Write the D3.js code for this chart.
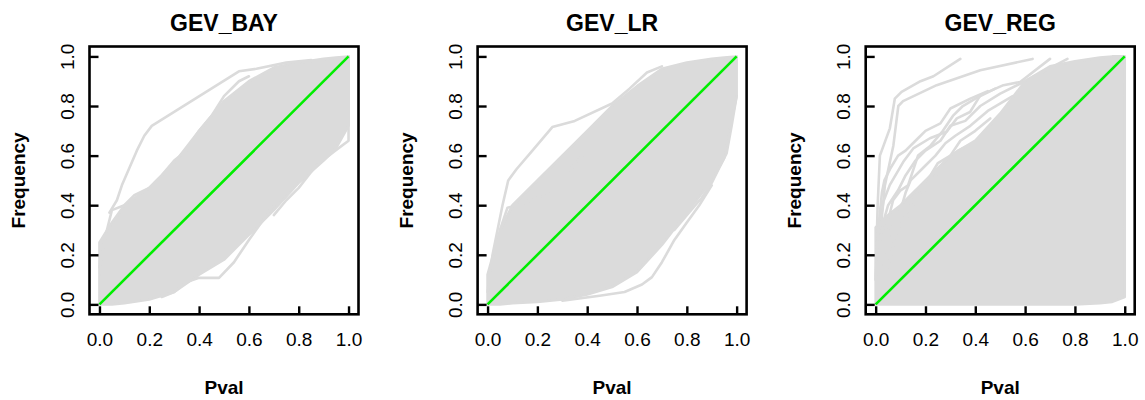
<!DOCTYPE html>
<html>
<head>
<meta charset="utf-8">
<script src="https://cdn.jsdelivr.net/npm/d3@7"></script>
<style>
  body { margin: 0; background: #fff; }
  text { font-family: "Liberation Sans", Arial, Helvetica, sans-serif; }
</style>
</head>
<body>
<div id="chart"></div>
<script>
// panel titles
const titles = ["GEV_BAY", "GEV_LR", "GEV_REG"];
const ticks = [0, 0.2, 0.4, 0.6, 0.8, 1.0];

// p-value grid for the dense band of curves
const pvalGrid = [0, 0.05, 0.1, 0.2, 0.3, 0.4, 0.5, 0.6, 0.7, 0.8, 0.9, 0.95, 1];

// envelope of the dense gray bundle
const bayUpper = [0.25, 0.33, 0.40, 0.47, 0.57, 0.70, 0.82, 0.90, 0.955, 0.975, 0.99, 0.995, 1];
const bayLower = [0, 0, 0.005, 0.02, 0.05, 0.12, 0.18, 0.28, 0.38, 0.49, 0.58, 0.63, 0.72];
const lrUpper  = [0.12, 0.30, 0.40, 0.50, 0.60, 0.70, 0.80, 0.88, 0.95, 0.975, 0.99, 0.995, 1];
const lrLower  = [0, 0, 0.005, 0.01, 0.02, 0.04, 0.07, 0.13, 0.24, 0.37, 0.50, 0.59, 0.84];
const regUpper = [0.31, 0.36, 0.40, 0.50, 0.60, 0.66, 0.77, 0.90, 0.96, 0.98, 0.995, 1, 1];
const regLower = [0, 0, 0, 0, 0, 0, 0, 0, 0, 0, 0.005, 0.01, 0.03];

// stray curves outside the bundle  [pval, frequency]
const bayLines = [
  [[0.04,0.37],[0.07,0.42],[0.09,0.48],[0.12,0.55],[0.15,0.62],[0.18,0.68],[0.21,0.72],[0.56,0.94],[0.63,0.95],[0.75,0.975],[0.85,0.985]],
  [[0,0.15],[0.03,0.30],[0.05,0.38],[0.1,0.40],[0.14,0.44],[0.2,0.47],[0.25,0.52],[0.3,0.58],[0.35,0.62],[0.4,0.70],[0.45,0.76],[0.5,0.84],[0.56,0.9],[0.6,0.92]],
  [[0.25,0.03],[0.3,0.05],[0.35,0.09],[0.40,0.107],[0.48,0.107],[0.54,0.17],[0.6,0.26],[0.65,0.33],[0.7,0.40]],
  [[0.7,0.36],[0.75,0.42],[0.8,0.47],[0.87,0.56],[0.94,0.615],[1,0.66],[1,1]]
];
const lrLines = [
  [[0,0.05],[0.02,0.2],[0.04,0.3],[0.06,0.40],[0.083,0.50],[0.116,0.545],[0.18,0.62],[0.26,0.715],[0.35,0.74],[0.5,0.81],[0.57,0.87],[0.64,0.935],[0.7,0.96]],
  [[0.05,0.3],[0.08,0.39],[0.12,0.40],[0.2,0.43],[0.27,0.45],[0.32,0.53],[0.38,0.6]],
  [[0.3,0.015],[0.45,0.035],[0.55,0.05],[0.62,0.08],[0.66,0.11],[0.70,0.17],[0.75,0.26],[0.8,0.33],[0.85,0.40],[0.9,0.48]],
  [[0.75,0.3],[0.8,0.36],[0.86,0.43],[0.9,0.49],[0.93,0.55],[0.96,0.61],[0.98,0.72],[1,0.84]]
];
const regLines = [
  [[0,0.1],[0.008,0.4],[0.017,0.6],[0.057,0.71],[0.077,0.83],[0.104,0.857],[0.18,0.9],[0.232,0.92],[0.34,0.99]],
  [[0.02,0.3],[0.037,0.48],[0.071,0.64],[0.091,0.8],[0.11,0.82],[0.245,0.884],[0.42,0.944],[0.63,0.99]],
  [[0.004,0.24],[0.031,0.415],[0.057,0.482],[0.111,0.575],[0.151,0.629],[0.218,0.67],[0.285,0.696],[0.326,0.75],[0.379,0.776],[0.42,0.843],[0.513,0.884],[0.58,0.897],[0.7,0.99]],
  [[0.01,0.2],[0.03,0.33],[0.05,0.40],[0.09,0.46],[0.12,0.52],[0.16,0.58],[0.2,0.62],[0.26,0.66],[0.3,0.72],[0.36,0.74],[0.42,0.80],[0.5,0.85],[0.6,0.9],[0.77,0.99]],
  [[0.02,0.15],[0.06,0.3],[0.1,0.38],[0.12,0.45],[0.14,0.5],[0.19,0.55],[0.24,0.6],[0.28,0.65],[0.32,0.68],[0.38,0.72],[0.45,0.78],[0.55,0.84]],
  [[0.04,0.3],[0.07,0.42],[0.1,0.46],[0.13,0.48],[0.17,0.6],[0.22,0.64],[0.27,0.7],[0.31,0.76],[0.35,0.8],[0.4,0.83],[0.48,0.87]],
  [[0.06,0.2],[0.1,0.3],[0.15,0.4],[0.18,0.47],[0.22,0.52],[0.25,0.57],[0.3,0.6],[0.34,0.66],[0.4,0.7],[0.46,0.75]],
  [[0,0.1],[0.01,0.3],[0.025,0.45],[0.035,0.5],[0.06,0.55],[0.09,0.6],[0.12,0.62],[0.16,0.66],[0.2,0.7],[0.26,0.73],[0.3,0.79],[0.38,0.83],[0.45,0.86]],
  [[0.05,0.15],[0.08,0.28],[0.12,0.36],[0.16,0.44],[0.2,0.46],[0.24,0.52],[0.28,0.56],[0.33,0.62],[0.37,0.64]]
];

const panels = [
  { title: titles[0], upper: bayUpper, lower: bayLower, lines: bayLines },
  { title: titles[1], upper: lrUpper,  lower: lrLower,  lines: lrLines },
  { title: titles[2], upper: regUpper, lower: regLower, lines: regLines }
];

const grey = "#dbdbdb";
const W = 1145, H = 400;
const boxW = 269, plotTop = 46.5, plotBottom = 314.3;

const svg = d3.select("#chart").append("svg")
    .attr("width", W)
    .attr("height", H);

panels.forEach((p, i) => {
  const left = 89.5 + i * 388.1;
  const x = d3.scaleLinear().domain([-0.04, 1.04]).range([left, left + boxW]);
  const y = d3.scaleLinear().domain([-0.04, 1.04]).range([plotBottom, plotTop]);
  const g = svg.append("g");

  // dense bundle
  const band = pvalGrid.map((v, k) => ({ p: v, lo: p.lower[k], hi: p.upper[k] }));
  const area = d3.area()
      .x(d => x(d.p))
      .y0(d => y(d.lo))
      .y1(d => y(d.hi));
  g.append("path")
      .datum(band)
      .attr("d", area)
      .attr("fill", grey)
      .attr("stroke", grey)
      .attr("stroke-width", 2.6)
      .attr("stroke-linejoin", "round");

  const line = d3.line().x(d => x(d[0])).y(d => y(d[1]));
  g.selectAll(".stray")
    .data(p.lines)
    .join("path")
      .attr("class", "stray")
      .attr("d", line)
      .attr("fill", "none")
      .attr("stroke", grey)
      .attr("stroke-width", 2.6)
      .attr("stroke-linejoin", "round")
      .attr("stroke-linecap", "round");

  // reference diagonal
  g.append("path")
      .datum([[0, 0], [1, 1]])
      .attr("d", line)
      .attr("stroke", "#00ee00")
      .attr("stroke-width", 2.6)
      .attr("fill", "none");

  // axes, ticks pointing inwards like the original
  const xa = g.append("g")
      .attr("transform", `translate(0,${plotBottom})`)
      .call(d3.axisBottom(x).tickValues(ticks).tickFormat(d3.format(".1f"))
        .tickSizeInner(-8).tickSizeOuter(0).tickPadding(18.5));
  const ya = g.append("g")
      .attr("transform", `translate(${left},0)`)
      .call(d3.axisLeft(y).tickValues(ticks).tickFormat(d3.format(".1f"))
        .tickSizeInner(-9).tickSizeOuter(0));
  [xa, ya].forEach(a => {
    a.select(".domain").remove();
    a.selectAll("line").attr("stroke", "#000").attr("stroke-width", 2.4);
    a.selectAll("text").attr("font-size", 19).attr("fill", "#000")
      .style("font-family", '"Liberation Sans", Arial, sans-serif');
  });
  ya.selectAll("text")
      .attr("x", null).attr("dy", null)
      .attr("text-anchor", "middle")
      .attr("transform", "translate(-15.5,0) rotate(-90)");

  // frame
  g.append("rect")
      .attr("x", left).attr("y", plotTop)
      .attr("width", boxW).attr("height", plotBottom - plotTop)
      .attr("fill", "none").attr("stroke", "#000").attr("stroke-width", 2.6);

  const cx = left + boxW / 2;
  g.append("text")
      .attr("x", cx).attr("y", 30.5)
      .attr("text-anchor", "middle")
      .attr("font-weight", "bold").attr("font-size", 23)
      .text(p.title);
  g.append("text")
      .attr("x", cx).attr("y", 394)
      .attr("text-anchor", "middle")
      .attr("font-weight", "bold").attr("font-size", 19)
      .text("Pval");
  g.append("text")
      .attr("transform", `translate(${left - 65},${(plotTop + plotBottom) / 2}) rotate(-90)`)
      .attr("text-anchor", "middle")
      .attr("font-weight", "bold").attr("font-size", 19)
      .text("Frequency");
});
</script>
</body>
</html>
